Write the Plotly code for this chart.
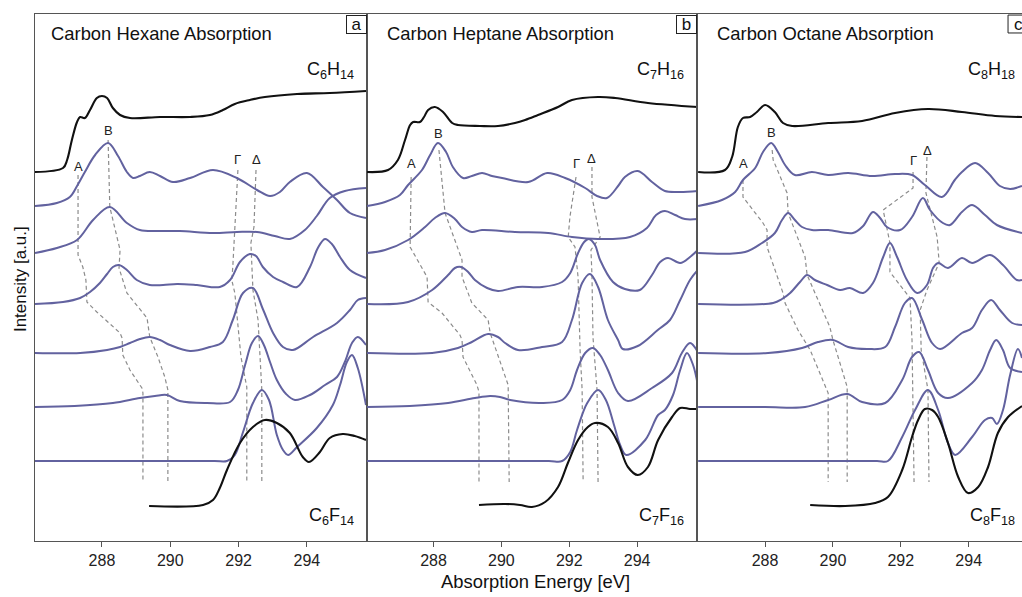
import plotly.graph_objects as go

# ---------------- data (energies in eV, intensities in a.u.) ----------------
# stacking offsets for: HC (exp.), S1..S6 (calc.), FC (exp.)
OFFSETS = [369, 335, 288, 237, 188, 134, 80, 35]

# ---- panel a : hexane ----
A_HC_E = [286.04, 286.86, 286.98, 287.12, 287.27, 287.36, 287.50, 287.65, 287.85, 288.00, 288.15, 288.32, 288.53, 288.82, 289.70, 290.58, 291.16, 291.54, 291.89, 292.33, 292.77, 293.71, 294.67, 295.73]
A_HC_I = [0, 4, 12, 32, 50, 55, 54, 62, 74, 76, 74, 64, 57, 54, 55, 55, 57, 62, 68, 72, 75, 78, 79, 81]
A_S1_E = [286.04, 286.68, 287.06, 287.27, 287.50, 287.80, 288.18, 288.47, 288.73, 288.91, 289.11, 289.40, 289.70, 290.08, 290.58, 291.25, 291.95, 292.54, 292.92, 293.21, 293.50, 294.00, 294.47, 294.88, 295.26, 295.73]
A_S1_I = [0, 3, 9, 20, 34, 51, 63, 50, 34, 28, 30, 34, 30, 24, 28, 36, 28, 16, 10, 14, 24, 33, 19, 6, -7, -12]
A_S2_E = [286.04, 286.68, 287.27, 287.74, 288.23, 288.73, 289.11, 289.70, 290.28, 291.25, 291.95, 292.54, 293.06, 293.50, 293.94, 294.29, 294.67, 295.11, 295.73]
A_S2_I = [0, 5, 13, 33, 46, 30, 23, 22, 22, 20, 21, 21, 17, 14, 23, 37, 55, 62, 65]
A_S3_E = [286.04, 286.86, 287.36, 287.65, 287.94, 288.15, 288.32, 288.50, 288.73, 289.02, 289.40, 289.79, 290.20, 290.78, 291.45, 291.75, 292.04, 292.33, 292.51, 292.71, 293.01, 293.30, 293.71, 294.09, 294.32, 294.53, 294.73, 294.97, 295.26, 295.73]
A_S3_I = [0, 2, 6, 12, 21, 30, 37, 39, 34, 24, 19, 19, 20, 19, 17, 24, 42, 50, 48, 37, 27, 22, 17, 37, 56, 65, 60, 47, 34, 26]
A_S4_E = [286.04, 287.36, 288.15, 288.53, 288.82, 289.11, 289.40, 289.70, 289.99, 290.58, 291.16, 291.54, 291.83, 292.13, 292.42, 292.71, 293.01, 293.30, 293.59, 294.18, 294.88, 295.26, 295.49, 295.73]
A_S4_I = [0, 0, 3, 6, 10, 14, 16, 13, 8, 2, 6, 11, 33, 60, 65, 44, 20, 6, 3, 16, 30, 43, 53, 55]
A_S5_E = [286.04, 287.20, 288.32, 289.11, 289.55, 289.90, 290.28, 291.07, 291.75, 291.98, 292.19, 292.39, 292.57, 292.74, 292.92, 293.12, 293.39, 293.65, 294.09, 294.53, 294.88, 295.11, 295.32, 295.49, 295.73]
A_S5_I = [0, 1, 4, 9, 11, 12, 6, 4, 5, 17, 42, 64, 71, 62, 45, 27, 13, 7, 12, 22, 30, 45, 64, 70, 62]
A_S6_E = [286.04, 289.00, 291.30, 291.66, 291.89, 292.13, 292.42, 292.68, 292.89, 293.12, 293.30, 293.45, 293.71, 294.29, 294.76, 294.97, 295.17, 295.32, 295.49, 295.73]
A_S6_I = [0, 0, 0, 0, 6, 29, 58, 71, 61, 26, 11, 6, 14, 33, 56, 76, 99, 106, 93, 56]
A_FC_E = [289.38, 290.96, 291.25, 291.45, 291.66, 292.04, 292.42, 292.77, 293.12, 293.50, 293.88, 294.06, 294.38, 294.67, 295.05, 295.40, 295.73]
A_FC_I = [0, 1, 6, 18, 36, 63, 79, 86, 83, 73, 49, 44, 54, 68, 72, 70, 66]
# guide lines (peak tracking) : energy, level
A_GA_E = [287.30, 287.30, 287.44, 287.53, 287.56, 287.85, 288.53, 288.59, 288.61, 288.82, 289.17, 289.20, 289.20]
A_GA_Y = [366, 286, 274, 261, 239, 229, 208, 203, 186, 171, 153, 148, 59]
A_GB_E = [288.18, 288.23, 288.53, 288.50, 288.73, 289.32, 289.40, 289.64, 289.84, 289.93, 289.93]
A_GB_Y = [401, 334, 291, 273, 248, 223, 204, 184, 164, 151, 59]
A_GG_E = [291.98, 291.89, 291.83, 291.80, 291.89, 292.07, 292.24, 292.24]
A_GG_Y = [371, 308, 274, 261, 248, 184, 154, 59]
A_GD_E = [292.51, 292.45, 292.36, 292.39, 292.42, 292.57, 292.62, 292.68, 292.68]
A_GD_Y = [371, 314, 298, 274, 251, 221, 188, 151, 59]
A_LBL_E = [287.30, 288.18, 291.98, 292.51]
A_LBL_Y = [375, 411, 382, 382]

# ---- panel b : heptane ----
B_HC_E = [286.04, 286.66, 286.95, 287.16, 287.31, 287.40, 287.60, 287.72, 287.84, 288.04, 288.28, 288.55, 288.72, 289.37, 289.90, 290.40, 290.70, 291.08, 291.67, 292.08, 292.85, 293.35, 294.32, 295.79]
B_HC_I = [0, 2, 12, 32, 47, 50, 50, 55, 62, 65, 60, 49, 47, 46, 46, 49, 52, 57, 65, 72, 75, 74, 69, 65]
B_S1_E = [286.04, 286.57, 287.01, 287.25, 287.66, 287.90, 288.13, 288.37, 288.57, 288.87, 289.13, 289.43, 289.72, 290.02, 290.79, 291.35, 291.88, 292.47, 292.82, 293.11, 293.44, 293.64, 294.02, 294.44, 294.82, 295.26, 295.79]
B_S1_I = [0, 4, 11, 21, 36, 51, 63, 54, 39, 28, 30, 33, 30, 28, 24, 33, 28, 18, 10, 8, 20, 29, 35, 24, 15, 14, 15]
B_S2_E = [286.04, 286.57, 287.25, 287.75, 288.04, 288.34, 288.63, 288.84, 289.13, 289.43, 290.40, 291.38, 292.08, 292.85, 293.79, 294.29, 294.56, 294.82, 295.12, 295.41, 295.79]
B_S2_I = [0, 3, 13, 26, 35, 40, 34, 26, 21, 23, 21, 20, 16, 14, 16, 25, 38, 42, 38, 34, 34]
B_S3_E = [286.04, 287.25, 287.96, 288.43, 288.63, 288.81, 289.02, 289.22, 289.58, 289.90, 290.49, 291.20, 291.79, 292.03, 292.26, 292.44, 292.58, 292.76, 292.91, 293.29, 293.64, 294.08, 294.44, 294.68, 294.91, 295.27, 295.56, 295.79]
B_S3_I = [0, 2, 14, 29, 36, 37, 32, 24, 16, 13, 17, 17, 22, 31, 51, 62, 65, 59, 44, 22, 15, 14, 29, 42, 46, 41, 47, 54]
B_S4_E = [286.04, 287.96, 288.72, 289.13, 289.61, 289.90, 290.11, 290.49, 291.20, 291.79, 292.08, 292.38, 292.61, 292.85, 293.14, 293.44, 293.58, 294.02, 294.61, 294.97, 295.27, 295.56, 295.79]
B_S4_I = [0, 0, 5, 11, 19, 16, 10, 3, 6, 11, 33, 70, 79, 66, 33, 13, 4, 7, 23, 33, 53, 73, 83]
B_S5_E = [286.04, 287.30, 288.43, 289.22, 289.67, 289.96, 290.26, 291.20, 291.79, 292.03, 292.23, 292.47, 292.70, 292.91, 293.14, 293.44, 293.73, 294.44, 295.03, 295.32, 295.56, 295.79]
B_S5_I = [0, 1, 4, 9, 11, 10, 7, 4, 7, 17, 37, 54, 59, 52, 37, 14, 6, 19, 34, 54, 64, 55]
B_S6_E = [286.04, 289.00, 291.40, 291.79, 292.03, 292.23, 292.53, 292.85, 293.08, 293.32, 293.50, 293.68, 294.24, 294.62, 294.82, 295.06, 295.27, 295.47, 295.65, 295.79]
B_S6_I = [0, 0, 0, 0, 9, 31, 58, 71, 61, 36, 16, 6, 21, 46, 51, 66, 91, 108, 96, 76]
B_FC_E = [289.34, 290.11, 290.55, 290.90, 291.29, 291.67, 291.96, 292.26, 292.55, 292.76, 293.14, 293.44, 293.73, 294.02, 294.32, 294.62, 295.03, 295.27, 295.56, 295.79]
B_FC_I = [1, 2, 1, -1, 4, 19, 43, 66, 79, 83, 79, 63, 39, 31, 39, 66, 89, 98, 97, 97]
B_GA_E = [287.34, 287.31, 287.81, 287.84, 288.25, 288.78, 288.84, 288.87, 289.28, 289.34, 289.34]
B_GA_Y = [364, 294, 264, 239, 228, 206, 201, 184, 156, 149, 59]
B_GB_E = [288.16, 288.34, 288.84, 288.84, 289.13, 289.61, 289.67, 290.11, 290.20, 290.23]
B_GB_Y = [391, 328, 281, 264, 238, 221, 208, 164, 156, 59]
B_GG_E = [292.20, 292.02, 291.97, 292.17, 292.26, 292.32, 292.38, 292.41]
B_GG_Y = [364, 324, 304, 294, 264, 191, 151, 59]
B_GD_E = [292.67, 292.67, 292.91, 292.64, 292.67, 292.70, 292.82, 292.85]
B_GD_Y = [374, 344, 304, 291, 266, 204, 151, 59]
B_LBL_E = [287.34, 288.16, 292.20, 292.67]
B_LBL_Y = [378, 408, 378, 383]

# ---- panel c : octane ----
C_HC_E = [286.03, 286.82, 287.03, 287.20, 287.35, 287.56, 287.76, 288.00, 288.29, 288.53, 288.80, 289.86, 290.86, 291.83, 292.80, 293.80, 294.78, 295.57]
C_HC_I = [0, 2, 15, 45, 54, 55, 60, 67, 60, 49, 46, 49, 51, 59, 63, 60, 56, 55]
C_S1_E = [286.03, 286.73, 287.12, 287.35, 287.71, 287.94, 288.18, 288.38, 288.59, 288.88, 289.38, 289.86, 290.45, 291.15, 291.83, 292.33, 292.71, 293.21, 293.59, 293.80, 294.19, 294.57, 294.92, 295.22, 295.57]
C_S1_I = [0, 6, 14, 26, 38, 54, 63, 54, 41, 31, 34, 31, 33, 30, 32, 31, 21, 9, 26, 34, 43, 33, 20, 17, 20]
C_S2_E = [286.03, 287.41, 287.91, 288.29, 288.50, 288.68, 288.88, 289.09, 289.38, 289.86, 290.59, 290.89, 291.18, 291.39, 291.59, 291.98, 292.33, 292.65, 292.86, 293.24, 293.45, 293.80, 294.10, 294.48, 294.83, 295.57]
C_S2_I = [0, 1, 10, 20, 33, 40, 33, 26, 23, 23, 20, 27, 41, 35, 26, 23, 36, 55, 43, 30, 28, 41, 48, 38, 28, 20]
C_S3_E = [286.03, 288.24, 288.50, 288.74, 289.03, 289.24, 289.47, 289.83, 290.21, 290.50, 290.89, 291.18, 291.48, 291.68, 291.89, 292.18, 292.48, 292.77, 292.95, 293.10, 293.39, 293.80, 294.10, 294.63, 295.01, 295.42, 295.57]
C_S3_I = [0, 1, 5, 11, 22, 29, 24, 19, 14, 16, 11, 21, 47, 61, 47, 24, 11, 19, 36, 41, 36, 46, 41, 49, 39, 24, 24]
C_S4_E = [286.03, 288.09, 289.09, 289.56, 290.00, 290.45, 291.03, 291.54, 291.83, 292.12, 292.33, 292.63, 292.92, 293.16, 293.80, 294.10, 294.39, 294.66, 294.92, 295.28, 295.57]
C_S4_I = [0, 0, 5, 11, 13, 6, 4, 6, 26, 50, 55, 33, 10, 4, 20, 25, 43, 53, 43, 30, 28]
C_S5_E = [286.03, 288.00, 289.18, 289.86, 290.42, 290.86, 291.54, 292.04, 292.33, 292.54, 292.80, 293.10, 293.39, 294.10, 294.39, 294.63, 294.81, 295.01, 295.22, 295.57]
C_S5_I = [0, 0, 0, 7, 13, 5, 4, 27, 50, 55, 37, 14, 9, 24, 37, 57, 67, 57, 39, 35]
C_S6_E = [286.03, 289.00, 291.30, 291.62, 292.04, 292.42, 292.80, 293.10, 293.39, 293.60, 294.10, 294.48, 294.69, 294.83, 295.01, 295.22, 295.45, 295.57]
C_S6_I = [0, 0, 0, 0, 24, 51, 71, 51, 18, 6, 24, 41, 43, 37, 51, 86, 112, 103]
C_FC_E = [289.33, 290.36, 291.24, 291.62, 292.04, 292.33, 292.51, 292.71, 292.92, 293.10, 293.39, 293.69, 293.98, 294.28, 294.57, 294.86, 295.16, 295.57]
C_FC_I = [1, 0, 3, 9, 36, 69, 86, 97, 96, 89, 63, 29, 13, 19, 39, 73, 89, 100]
C_GA_E = [287.35, 287.35, 287.94, 288.06, 288.06, 288.53, 288.59, 288.97, 289.33, 289.77, 289.86, 289.86]
C_GA_Y = [361, 344, 318, 311, 294, 248, 238, 211, 191, 154, 148, 59]
C_GB_E = [288.21, 288.24, 288.65, 288.68, 289.18, 289.24, 289.91, 290.00, 290.27, 290.42, 290.42]
C_GB_Y = [391, 381, 348, 328, 284, 266, 214, 201, 171, 154, 59]
C_GG_E = [292.36, 292.36, 291.48, 291.68, 291.68, 292.27, 292.33, 292.39]
C_GG_Y = [369, 353, 331, 298, 269, 243, 201, 59]
C_GD_E = [292.77, 292.74, 293.07, 293.13, 292.77, 292.57, 292.60, 292.80, 292.83]
C_GD_Y = [384, 348, 304, 278, 251, 231, 191, 151, 59]
C_LBL_E = [287.38, 288.18, 292.36, 292.80]
C_LBL_Y = [378, 409, 381, 391]

PEAK_LABELS = ["A", "B", "Γ", "Δ"]
TITLES = ["Carbon Hexane Absorption", "Carbon Heptane Absorption", "Carbon Octane Absorption"]
HC_NAMES = ["C<sub>6</sub>H<sub>14</sub>", "C<sub>7</sub>H<sub>16</sub>", "C<sub>8</sub>H<sub>18</sub>"]
FC_NAMES = ["C<sub>6</sub>F<sub>14</sub>", "C<sub>7</sub>F<sub>16</sub>", "C<sub>8</sub>F<sub>18</sub>"]
PANEL_TAGS = ["a", "b", "c"]
TICKS = [288, 290, 292, 294]

# ---------------- figure ----------------
FONT = "Liberation Sans, Arial, Helvetica, sans-serif"
PURPLE = "#62629f"
BLACK = "#111111"
GUIDE = "#8c8c8c"
FRAME = "#555555"

panels = [
    dict(curves=[(A_HC_E, A_HC_I), (A_S1_E, A_S1_I), (A_S2_E, A_S2_I), (A_S3_E, A_S3_I),
                 (A_S4_E, A_S4_I), (A_S5_E, A_S5_I), (A_S6_E, A_S6_I), (A_FC_E, A_FC_I)],
         guides=[(A_GA_E, A_GA_Y), (A_GB_E, A_GB_Y), (A_GG_E, A_GG_Y), (A_GD_E, A_GD_Y)],
         lbl=(A_LBL_E, A_LBL_Y), xr=[286.04, 295.76], dom=[0.0, 0.3364]),
    dict(curves=[(B_HC_E, B_HC_I), (B_S1_E, B_S1_I), (B_S2_E, B_S2_I), (B_S3_E, B_S3_I),
                 (B_S4_E, B_S4_I), (B_S5_E, B_S5_I), (B_S6_E, B_S6_I), (B_FC_E, B_FC_I)],
         guides=[(B_GA_E, B_GA_Y), (B_GB_E, B_GB_Y), (B_GG_E, B_GG_Y), (B_GD_E, B_GD_Y)],
         lbl=(B_LBL_E, B_LBL_Y), xr=[286.04, 295.78], dom=[0.3364, 0.6712]),
    dict(curves=[(C_HC_E, C_HC_I), (C_S1_E, C_S1_I), (C_S2_E, C_S2_I), (C_S3_E, C_S3_I),
                 (C_S4_E, C_S4_I), (C_S5_E, C_S5_I), (C_S6_E, C_S6_I), (C_FC_E, C_FC_I)],
         guides=[(C_GA_E, C_GA_Y), (C_GB_E, C_GB_Y), (C_GG_E, C_GG_Y), (C_GD_E, C_GD_Y)],
         lbl=(C_LBL_E, C_LBL_Y), xr=[286.01, 295.57], dom=[0.6712, 1.0]),
]

fig = go.Figure()
annotations = []
shapes = []
layout = {}
for k, p in enumerate(panels):
    sfx = "" if k == 0 else str(k + 1)
    xa, ya = "x" + sfx, "y" + sfx
    for ge, gy in p["guides"]:
        fig.add_trace(go.Scatter(x=ge, y=gy, mode="lines", xaxis=xa, yaxis=ya,
                                 line=dict(color=GUIDE, width=1.2, dash="4px,3px"),
                                 hoverinfo="skip", showlegend=False))
    for i, (ce, ci) in enumerate(p["curves"]):
        exp = i in (0, 7)
        fig.add_trace(go.Scatter(x=ce, y=[v + OFFSETS[i] for v in ci], mode="lines",
                                 xaxis=xa, yaxis=ya,
                                 line=dict(color=BLACK if exp else PURPLE, width=2.1 if exp else 2.0,
                                           shape="spline", smoothing=1.0),
                                 hoverinfo="skip", showlegend=False))
    le, ly = p["lbl"]
    for t, e, yy in zip(PEAK_LABELS, le, ly):
        annotations.append(dict(x=e, y=yy, xref=xa, yref=ya, text=t, showarrow=False,
                                font=dict(family=FONT, size=13, color="#222")))
    dref = xa + " domain"
    yref = ya + " domain"
    frac = 1.0 if k < 2 else 331.0 / 324.5
    annotations.append(dict(x=0.041 if k == 0 else 0.055, y=0.963, xref=dref, yref=yref,
                            text=TITLES[k], showarrow=False, xanchor="left", yanchor="middle",
                            font=dict(family=FONT, size=18.4, color="#111")))
    annotations.append(dict(x=0.966 * frac, y=0.893, xref=dref, yref=yref, text=HC_NAMES[k],
                            showarrow=False, xanchor="right", yanchor="middle",
                            font=dict(family=FONT, size=18, color="#111")))
    annotations.append(dict(x=0.966 * frac, y=0.046, xref=dref, yref=yref, text=FC_NAMES[k],
                            showarrow=False, xanchor="right", yanchor="middle",
                            font=dict(family=FONT, size=18, color="#111")))
    if k < 2:
        annotations.append(dict(x=0.9985, y=0.998, xref=dref, yref=yref, text=PANEL_TAGS[k],
                                showarrow=False, xanchor="right", yanchor="top",
                                width=17, height=15, borderpad=1,
                                bordercolor="#222", borderwidth=1, bgcolor="white",
                                font=dict(family=FONT, size=17, color="#111")))
    else:
        # tag box of the last panel runs past the right edge of the picture
        shapes.append(dict(type="rect", xref=dref, yref=yref, x0=0.957, x1=1.06,
                           y0=0.964, y1=0.998, line=dict(color="#222", width=1),
                           fillcolor="white", layer="above"))
        annotations.append(dict(x=0.970, y=0.981, xref=dref, yref=yref, text=PANEL_TAGS[k],
                                showarrow=False, xanchor="left", yanchor="middle",
                                font=dict(family=FONT, size=17, color="#111")))
    layout["xaxis" + sfx] = dict(domain=p["dom"], range=p["xr"], anchor=ya,
                                 tickvals=TICKS, ticktext=[str(t) for t in TICKS],
                                 ticks="outside", ticklen=5, tickcolor=FRAME, tickwidth=1,
                                 showline=True, linecolor=FRAME, linewidth=1, mirror=True,
                                 showgrid=False, zeroline=False,
                                 tickfont=dict(family=FONT, size=16, color="#222"))
    layout["yaxis" + sfx] = dict(domain=[0, 1], range=[0, 527], anchor=xa,
                                 showticklabels=False, ticks="", showgrid=False, zeroline=False,
                                 showline=True, linecolor=FRAME, linewidth=1, mirror=(k < 2))

annotations.append(dict(x=0.507, y=-0.076, xref="paper", yref="paper", text="Absorption Energy [eV]",
                        showarrow=False, xanchor="center", yanchor="middle",
                        font=dict(family=FONT, size=18.4, color="#111")))
annotations.append(dict(x=-0.0152, y=0.497, xref="paper", yref="paper", text="Intensity [a.u.]",
                        showarrow=False, textangle=-90, xanchor="center", yanchor="middle",
                        font=dict(family=FONT, size=17, color="#111")))

fig.update_layout(width=1022, height=597, margin=dict(l=35, r=0, t=14, b=56),
                  paper_bgcolor="white", plot_bgcolor="white",
                  annotations=annotations, shapes=shapes, **layout)

# remove the page's default body margin so the figure fills the window exactly
fig.write_html("out.html",
               config={"displayModeBar": False, "staticPlot": True},
               post_script="document.body.style.margin='0';"
                           "document.body.style.overflow='hidden';"
                           "document.documentElement.style.overflow='hidden';")
